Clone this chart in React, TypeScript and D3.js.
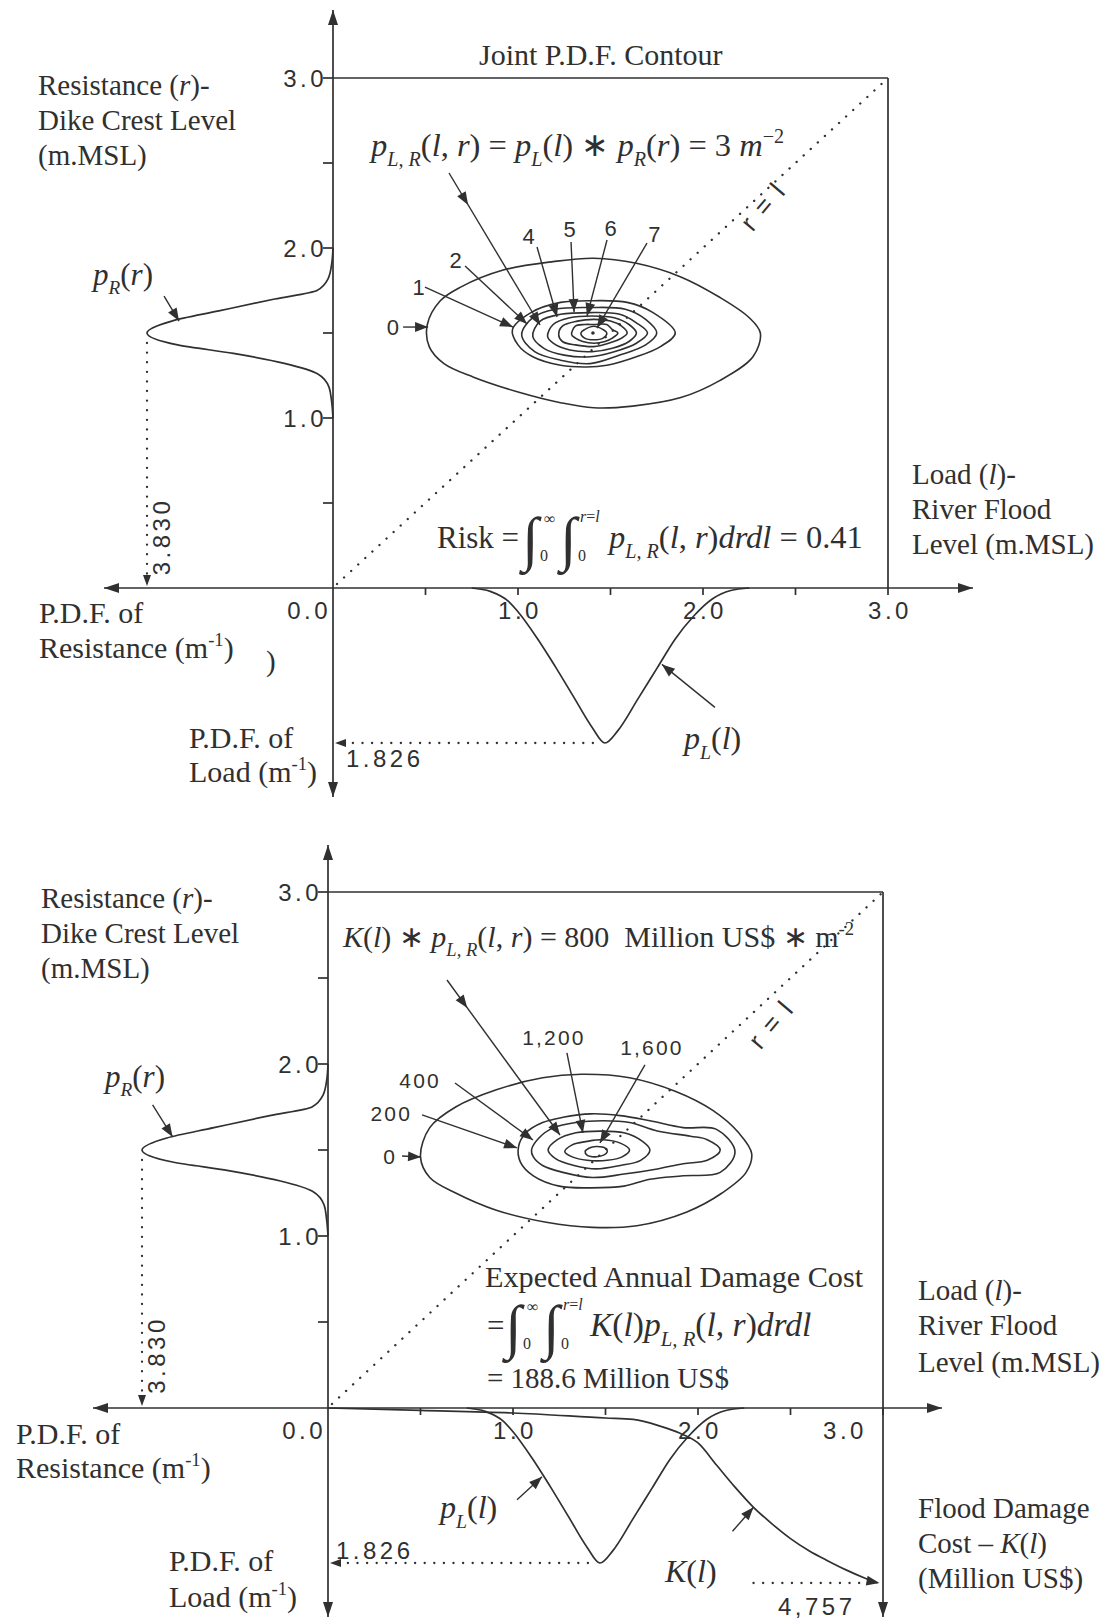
import React from 'react';
import * as d3 from 'd3';

const INK = '#303030';
const SERIF = '"Liberation Serif", "Times New Roman", serif';
const SANS = '"Liberation Sans", Arial, sans-serif';

// p_R(r) - resistance (dike crest level) density
const crestLevel = [1.0, 1.1, 1.18, 1.26, 1.32, 1.38, 1.43, 1.5, 1.57, 1.63, 1.7, 1.75, 1.82, 1.9, 2.0];
const crestPdf = [0, 0.03, 0.08, 0.32, 0.98, 2.05, 3.2, 3.83, 3.32, 2.35, 1.2, 0.33, 0.1, 0.03, 0];

// p_L(l) - load (river flood level) density, drawn below the l axis
const floodLevel = [0.75, 0.85, 0.95, 1.0, 1.1, 1.2, 1.3, 1.4, 1.47, 1.54, 1.65, 1.75, 1.85, 1.95, 2.05, 2.15, 2.25];
const floodPdf = [0, 0.04, 0.16, 0.28, 0.58, 0.92, 1.28, 1.64, 1.826, 1.68, 1.3, 0.95, 0.6, 0.33, 0.13, 0.03, 0];

// K(l) - flood damage cost (million US$)
const damageLevel = [0, 0.5, 1.0, 1.5, 1.65, 1.8, 1.9, 2.0, 2.1, 2.2, 2.3, 2.4, 2.5, 2.6, 2.7, 2.8, 2.9, 2.97];
const damageCost = [0, 65, 136, 272, 310, 500, 680, 950, 1550, 2150, 2700, 3150, 3550, 3880, 4150, 4400, 4620, 4757];

const axisTicks = [0.5, 1, 1.5, 2, 2.5, 3];
const labelTicks = [1, 2, 3];

// joint pdf contours p_LR(l, r), levels 0..7 m^-2, points are [l, r]
const jointLevels = ['0', '1', '2', '3', '4', '5', '6', '7'];
const jointRings = [
  [[0.51, 1.55], [0.58, 1.69], [0.69, 1.77], [0.92, 1.87], [1.19, 1.92], [1.41, 1.94], [1.64, 1.91], [1.88, 1.83], [2.09, 1.71], [2.25, 1.59], [2.31, 1.5], [2.27, 1.36], [2.09, 1.22], [1.88, 1.12], [1.62, 1.07], [1.41, 1.06], [1.23, 1.09], [1.01, 1.15], [0.76, 1.24], [0.6, 1.32], [0.52, 1.42]],
  [[0.97, 1.52], [1.07, 1.62], [1.23, 1.68], [1.41, 1.69], [1.59, 1.68], [1.73, 1.62], [1.85, 1.5], [1.77, 1.42], [1.64, 1.36], [1.48, 1.31], [1.37, 1.3], [1.23, 1.31], [1.08, 1.36], [1.0, 1.43]],
  [[1.02, 1.49], [1.08, 1.59], [1.2, 1.64], [1.39, 1.65], [1.58, 1.64], [1.69, 1.58], [1.75, 1.5], [1.69, 1.43], [1.55, 1.37], [1.39, 1.32], [1.23, 1.34], [1.09, 1.39]],
  [[1.08, 1.48], [1.12, 1.57], [1.23, 1.61], [1.39, 1.62], [1.55, 1.61], [1.64, 1.56], [1.7, 1.5], [1.64, 1.44], [1.52, 1.39], [1.39, 1.36], [1.25, 1.37], [1.14, 1.41]],
  [[1.16, 1.48], [1.19, 1.55], [1.28, 1.59], [1.4, 1.6], [1.52, 1.59], [1.6, 1.55], [1.64, 1.5], [1.6, 1.45], [1.51, 1.41], [1.4, 1.39], [1.28, 1.4], [1.19, 1.44]],
  [[1.22, 1.49], [1.24, 1.54], [1.32, 1.57], [1.41, 1.58], [1.5, 1.57], [1.56, 1.54], [1.59, 1.5], [1.56, 1.47], [1.49, 1.44], [1.41, 1.42], [1.31, 1.43], [1.24, 1.45]],
  [[1.29, 1.49], [1.31, 1.54], [1.36, 1.55], [1.41, 1.55], [1.48, 1.55], [1.51, 1.52], [1.54, 1.5], [1.51, 1.47], [1.47, 1.45], [1.41, 1.44], [1.35, 1.45], [1.31, 1.47]],
  [[1.34, 1.5], [1.36, 1.52], [1.41, 1.54], [1.46, 1.52], [1.48, 1.5], [1.46, 1.47], [1.41, 1.46], [1.36, 1.47]],
];
const jointPeak = [1.405, 1.5];

// expected damage contours K(l) * p_LR(l, r), million US$ m^-2
const costLevels = ['0', '200', '400', '800', '1,200', '1,600'];
const costRings = [
  [[0.5, 1.46], [0.55, 1.63], [0.69, 1.75], [0.91, 1.85], [1.16, 1.92], [1.37, 1.94], [1.63, 1.92], [1.88, 1.84], [2.08, 1.73], [2.22, 1.6], [2.29, 1.48], [2.26, 1.37], [2.13, 1.25], [1.94, 1.14], [1.67, 1.06], [1.43, 1.05], [1.18, 1.08], [0.91, 1.15], [0.69, 1.25], [0.55, 1.34]],
  [[1.03, 1.52], [1.07, 1.6], [1.16, 1.66], [1.27, 1.69], [1.42, 1.71], [1.58, 1.7], [1.74, 1.67], [1.92, 1.63], [2.1, 1.62], [2.2, 1.49], [2.12, 1.37], [1.92, 1.35], [1.74, 1.33], [1.6, 1.29], [1.42, 1.28], [1.25, 1.29], [1.11, 1.35], [1.04, 1.43]],
  [[1.1, 1.5], [1.14, 1.57], [1.22, 1.63], [1.34, 1.66], [1.49, 1.67], [1.63, 1.66], [1.78, 1.61], [1.96, 1.58], [2.05, 1.56], [2.12, 1.5], [2.05, 1.44], [1.92, 1.42], [1.78, 1.39], [1.6, 1.36], [1.43, 1.34], [1.27, 1.37], [1.16, 1.41], [1.11, 1.46]],
  [[1.19, 1.5], [1.24, 1.56], [1.34, 1.6], [1.47, 1.61], [1.6, 1.6], [1.7, 1.55], [1.74, 1.5], [1.69, 1.44], [1.58, 1.41], [1.45, 1.39], [1.33, 1.41], [1.23, 1.45]],
  [[1.28, 1.49], [1.32, 1.53], [1.4, 1.55], [1.49, 1.56], [1.58, 1.54], [1.63, 1.5], [1.59, 1.46], [1.51, 1.44], [1.4, 1.44], [1.32, 1.46]],
  [[1.39, 1.49], [1.41, 1.51], [1.45, 1.52], [1.5, 1.51], [1.51, 1.49], [1.49, 1.47], [1.44, 1.46], [1.4, 1.47]],
];

// layout scales
const topX = d3.scaleLinear().domain([0, 3]).range([333, 888]);
const topY = d3.scaleLinear().domain([0, 3]).range([588, 78]);
const botX = d3.scaleLinear().domain([0, 3]).range([328, 883]);
const botY = d3.scaleLinear().domain([0, 3]).range([1408, 892]);
const pdfR = d3.scaleLinear().domain([0, 3.83]).range([0, 186]);
const pdfL = d3.scaleLinear().domain([0, 1.826]).range([0, 155]);
const costK = d3.scaleLinear().domain([0, 4757]).range([0, 175]);
const fmt = d3.format('.1f');

const head = (tx: number, ty: number, ang: number, len = 12, half = 4.5) => {
  const c = Math.cos(ang), s = Math.sin(ang);
  const bx = tx - len * c, by = ty - len * s;
  return `M${tx},${ty}L${bx - half * s},${by + half * c}L${bx + half * s},${by - half * c}Z`;
};

type Seg = [string, string?];
function Rich({ x, y, segs, size = 29, anchor = 'start' }: { x: number; y: number; segs: Seg[]; size?: number; anchor?: string }) {
  let off = 0;
  const kids = segs.map(([t, f = ''], k) => {
    const small = f.includes('b') || f.includes('p');
    const target = f.includes('b') ? size * 0.3 : f.includes('p') ? -size * 0.4 : 0;
    const dy = target - off;
    off = target;
    return (
      <tspan key={k} dy={dy || undefined} fontStyle={f.includes('i') ? 'italic' : undefined} fontSize={small ? size * 0.62 : undefined}>
        {t}
      </tspan>
    );
  });
  return (
    <text x={x} y={y} fontSize={size} fontFamily={SERIF} fill={INK} textAnchor={anchor} style={{ whiteSpace: 'pre' }}>
      {kids}
    </text>
  );
}

function Num({ x, y, children, anchor = 'start', size = 24, ls = 3.5, transform }: any) {
  return (
    <text x={x} y={y} fontSize={size} fontFamily={SANS} fill={INK} textAnchor={anchor} letterSpacing={ls} transform={transform}>
      {children}
    </text>
  );
}

function Pointer({ tx, ty, dx, dy, mid, len = 13 }: { tx: number; ty: number; dx: number; dy: number; mid?: number; len?: number }) {
  const sx = tx + dx, sy = ty + dy;
  const ang = Math.atan2(ty - sy, tx - sx);
  return (
    <g>
      <line x1={sx} y1={sy} x2={tx} y2={ty} stroke={INK} strokeWidth={1.4} />
      <path d={head(tx, ty, ang, len, len * 0.38)} fill={INK} />
      {mid != null && <path d={head(sx + (tx - sx) * mid, sy + (ty - sy) * mid, ang, len, len * 0.38)} fill={INK} />}
    </g>
  );
}

const Dotted = (p: any) => (
  <line {...p} stroke={INK} strokeWidth={2.3} strokeDasharray="0.1 9.5" strokeLinecap="round" />
);

function Integrals({ x, y }: { x: number; y: number }) {
  return (
    <g fill={INK} fontFamily={SERIF}>
      <text x={x} y={y + 11} fontSize={60}>∫</text>
      <text x={x + 22} y={y - 24} fontSize={16}>∞</text>
      <text x={x + 18} y={y + 13} fontSize={16}>0</text>
      <text x={x + 38} y={y + 11} fontSize={60}>∫</text>
      <text x={x + 58} y={y - 26} fontSize={16}>
        <tspan fontStyle="italic">r</tspan>=<tspan fontStyle="italic">l</tspan>
      </text>
      <text x={x + 56} y={y + 13} fontSize={16}>0</text>
    </g>
  );
}

function Frame({ x, y, hLeft, hRight, vTop, vBottom, rightBottom, shift3 = 0 }: any) {
  const x0 = x(0), y0 = y(0);
  return (
    <g>
      <g stroke={INK} strokeWidth={1.7} fill="none">
        <line x1={hLeft} y1={y0} x2={hRight} y2={y0} />
        <line x1={x0} y1={vTop} x2={x0} y2={vBottom} />
        <line x1={x0} y1={y(3)} x2={x(3)} y2={y(3)} />
        <line x1={x(3)} y1={y(3)} x2={x(3)} y2={rightBottom} />
        {axisTicks.map((t) => <line key={'y' + t} x1={x0 - 10} x2={x0} y1={y(t)} y2={y(t)} />)}
        {axisTicks.map((t) => <line key={'x' + t} x1={x(t)} x2={x(t)} y1={y0} y2={y0 + 7} />)}
      </g>
      <g fill={INK}>
        <path d={head(hLeft, y0, Math.PI, 15, 5)} />
        <path d={head(hRight, y0, 0, 15, 5)} />
        <path d={head(x0, vTop, -Math.PI / 2, 15, 5)} />
        <path d={head(x0, vBottom, Math.PI / 2, 15, 5)} />
      </g>
      {labelTicks.map((t) => <Num key={'ly' + t} x={x0 - 6} y={y(t) + 9} anchor="end">{fmt(t)}</Num>)}
      <Num x={x0 - 2} y={y0 + 31} anchor="end">{fmt(0)}</Num>
      {labelTicks.map((t) => (
        <Num key={'lx' + t} x={x(t) + 2 + (t === 3 ? shift3 : 0)} y={y0 + 31} anchor="middle">{fmt(t)}</Num>
      ))}
    </g>
  );
}

function Marginals({ x, y, pl, peakLabelY }: any) {
  const x0 = x(0), y0 = y(0);
  const rPts = d3.zip(crestLevel, crestPdf).reverse();
  const lPts = d3.zip(floodLevel, floodPdf);
  const rLine = d3.line<number[]>().x((d) => x0 - pdfR(d[1])).y((d) => y(d[0])).curve(d3.curveMonotoneY);
  const lLine = d3.line<number[]>().x((d) => x(d[0])).y((d) => y0 + pdfL(d[1])).curve(d3.curveMonotoneX);
  const ri = d3.maxIndex(crestPdf), li = d3.maxIndex(floodPdf);
  const rpx = x0 - pdfR(crestPdf[ri]), rpy = y(crestLevel[ri]);
  const lpx = x(floodLevel[li]), lpy = y0 + pdfL(floodPdf[li]);
  const cy = (rpy + y0) / 2 + 76;
  return (
    <g>
      <path d={rLine(rPts) || ''} fill="none" stroke={INK} strokeWidth={1.7} />
      <path d={lLine(lPts) || ''} fill="none" stroke={INK} strokeWidth={1.7} />
      <Dotted x1={rpx} y1={rpy + 10} x2={rpx} y2={y0 - 12} />
      <path d={head(rpx, y0 - 2, Math.PI / 2, 11, 4)} fill={INK} />
      <Dotted x1={lpx - 12} y1={lpy} x2={x0 + 12} y2={lpy} />
      <path d={head(x0 + 2, lpy, Math.PI, 11, 4)} fill={INK} />
      <Num x={rpx + 23} y={cy} anchor="middle" transform={`rotate(-90 ${rpx + 23} ${cy})`}>
        {d3.format('.3f')(crestPdf[ri])}
      </Num>
      <Num x={x0 + (pl ? 13 : 8)} y={peakLabelY}>{d3.format('.3f')(floodPdf[li])}</Num>
    </g>
  );
}

function TopPanel() {
  const x = topX, y = topY;
  const ring = d3.line<number[]>().x((d) => x(d[0])).y((d) => y(d[1])).curve(d3.curveCatmullRomClosed.alpha(0.5));
  const ptrs = [
    { label: jointLevels[0], tip: [0.514, 1.535], d: [-25, 0], lab: [-3, 8], anchor: 'end' },
    { label: jointLevels[1], tip: [0.973, 1.535], d: [-88, -40], lab: [-6, 8], anchor: 'middle' },
    { label: jointLevels[2], tip: [1.049, 1.553], d: [-62, -58], lab: [-9, 2], anchor: 'middle' },
    { label: jointLevels[4], tip: [1.211, 1.594], d: [-20, -70], lab: [-8, -3], anchor: 'middle' },
    { label: jointLevels[5], tip: [1.303, 1.624], d: [-3, -70], lab: [-1, -5], anchor: 'middle' },
    { label: jointLevels[6], tip: [1.373, 1.6], d: [20, -76], lab: [4, -4], anchor: 'middle' },
    { label: jointLevels[7], tip: [1.427, 1.529], d: [50, -85], lab: [8, -1], anchor: 'middle' },
  ];
  const rTip = [3.17, 1.57];
  const lTip = [1.778, 0.9];
  return (
    <g>
      <Frame x={x} y={y} hLeft={104} hRight={973} vTop={10} vBottom={797} rightBottom={y(0)} />
      <Dotted x1={x(0) + 4} y1={y(0) - 4} x2={x(3)} y2={y(3)} />
      <Marginals x={x} y={y} pl peakLabelY={767} />
      {jointRings.map((r, i) => (
        <path key={i} d={ring(r) || ''} fill="none" stroke={INK} strokeWidth={1.6} />
      ))}
      <circle cx={x(jointPeak[0])} cy={y(jointPeak[1])} r={1.8} fill={INK} />
      {ptrs.map((p) => {
        const tx = x(p.tip[0]), ty = y(p.tip[1]);
        return (
          <g key={p.label}>
            <Pointer tx={tx} ty={ty} dx={p.d[0]} dy={p.d[1]} />
            <Num x={tx + p.d[0] + p.lab[0]} y={ty + p.d[1] + p.lab[1]} anchor={p.anchor} size={22} ls={1}>{p.label}</Num>
          </g>
        );
      })}
      <Pointer tx={x(1.119)} ty={y(1.547)} dx={-91} dy={-152} mid={0.21} />
      <Pointer tx={x(0) - pdfR(rTip[0])} ty={y(rTip[1])} dx={-15} dy={-25} />
      <Pointer tx={x(lTip[0])} ty={y(0) + pdfL(lTip[1])} dx={53} dy={43} />

      <text transform="translate(770,212) rotate(-50)" textAnchor="middle" fontFamily={SANS} fontSize={26} fill={INK} letterSpacing={2}>r = l</text>

      <Rich x={479} y={65} size={30} segs={[['Joint P.D.F. Contour']]} />
      <Rich x={38} y={95} segs={[['Resistance ('], ['r', 'i'], [')-']]} />
      <Rich x={38} y={130} segs={[['Dike Crest Level']]} />
      <Rich x={38} y={165} segs={[['(m.MSL)']]} />
      <Rich x={93} y={285} size={31} segs={[['p', 'i'], ['R', 'ib'], ['('], ['r', 'i'], [')']]} />
      <Rich x={371} y={156} size={32.5} segs={[['p', 'i'], ['L, R', 'ib'], ['('], ['l', 'i'], [', '], ['r', 'i'], [') = '], ['p', 'i'], ['L', 'ib'], ['('], ['l', 'i'], [') ∗ '], ['p', 'i'], ['R', 'ib'], ['('], ['r', 'i'], [') = 3 '], ['m', 'i'], ['−2', 'p']]} />
      <Rich x={437} y={548} size={31} segs={[['Risk =']]} />
      <Integrals x={522} y={548} />
      <Rich x={609} y={548} size={32.5} segs={[['p', 'i'], ['L, R', 'ib'], ['('], ['l', 'i'], [', '], ['r', 'i'], [')'], ['drdl', 'i'], [' = 0.41']]} />
      <Rich x={912} y={484} segs={[['Load ('], ['l', 'i'], [')-']]} />
      <Rich x={912} y={519} segs={[['River Flood']]} />
      <Rich x={912} y={554} segs={[['Level (m.MSL)']]} />
      <Rich x={39} y={623} size={30} segs={[['P.D.F. of']]} />
      <Rich x={39} y={658} size={30} segs={[['Resistance (m'], ['-1', 'p'], [')']]} />
      <Rich x={266} y={671} segs={[[')']]} />
      <Rich x={189} y={748} size={30} segs={[['P.D.F. of']]} />
      <Rich x={189} y={782} size={30} segs={[['Load (m'], ['-1', 'p'], [')']]} />
      <Rich x={684} y={749} size={32} segs={[['p', 'i'], ['L', 'ib'], ['('], ['l', 'i'], [')']]} />
    </g>
  );
}

function BottomPanel() {
  const x = botX, y = botY;
  const y0 = y(0);
  const ring = d3.line<number[]>().x((d) => x(d[0])).y((d) => y(d[1])).curve(d3.curveCatmullRomClosed.alpha(0.5));
  const kLine = d3.line<number[]>().x((d) => x(d[0])).y((d) => y0 + costK(d[1])).curve(d3.curveMonotoneX);
  const kPts = d3.zip(damageLevel, damageCost);
  const n = kPts.length;
  const kEndX = x(kPts[n - 1][0]), kEndY = y0 + costK(kPts[n - 1][1]);
  const kAng = Math.atan2(kEndY - (y0 + costK(kPts[n - 2][1])), kEndX - x(kPts[n - 2][0])) * 0.5;
  const ptrs = [
    { label: costLevels[0], tip: [0.503, 1.459], d: [-19, -1], lab: [-5, 8], anchor: 'end' },
    { label: costLevels[1], tip: [1.022, 1.512], d: [-95, -33], lab: [-10, 6], anchor: 'end' },
    { label: costLevels[2], tip: [1.108, 1.558], d: [-78, -57], lab: [-14, 5], anchor: 'end' },
    { label: costLevels[4], tip: [1.378, 1.599], d: [-16, -80], lab: [-13, -8], anchor: 'middle' },
    { label: costLevels[5], tip: [1.47, 1.541], d: [45, -78], lab: [7, -10], anchor: 'middle' },
  ];
  const rTip = [3.2, 1.576];
  const lTip = [1.157, 0.81];
  const kTip = [2.3, 2700];
  return (
    <g>
      <Frame x={x} y={y} hLeft={93} hRight={942} vTop={845} vBottom={1617} rightBottom={1617} shift3={-40} />
      <path d={head(x(3), 1617, Math.PI / 2, 15, 5)} fill={INK} />
      <Dotted x1={x(0) + 4} y1={y0 - 4} x2={x(3)} y2={y(3)} />
      <Marginals x={x} y={y} peakLabelY={1559} />
      <path d={kLine(kPts) || ''} fill="none" stroke={INK} strokeWidth={1.7} />
      <Dotted x1={x(2.3)} y1={kEndY} x2={kEndX - 14} y2={kEndY} />
      <path d={head(kEndX + 2, kEndY, kAng, 13, 5)} fill={INK} />
      {costRings.map((r, i) => (
        <path key={i} d={ring(r) || ''} fill="none" stroke={INK} strokeWidth={1.6} />
      ))}
      {ptrs.map((p) => {
        const tx = x(p.tip[0]), ty = y(p.tip[1]);
        return (
          <g key={p.label}>
            <Pointer tx={tx} ty={ty} dx={p.d[0]} dy={p.d[1]} />
            <Num x={tx + p.d[0] + p.lab[0]} y={ty + p.d[1] + p.lab[1]} anchor={p.anchor} size={21} ls={2.2}>{p.label}</Num>
          </g>
        );
      })}
      <Pointer tx={x(1.254)} ty={y(1.587)} dx={-113} dy={-155} mid={0.18} />
      <Pointer tx={x(0) - pdfR(rTip[0])} ty={y(rTip[1])} dx={-20} dy={-32} />
      <Pointer tx={x(lTip[0])} ty={y0 + pdfL(lTip[1])} dx={-25} dy={23} />
      <Pointer tx={x(kTip[0])} ty={y0 + costK(kTip[1])} dx={-21} dy={24} />

      <text transform="translate(778,1030) rotate(-50)" textAnchor="middle" fontFamily={SANS} fontSize={26} fill={INK} letterSpacing={2}>r = l</text>

      <Rich x={41} y={908} segs={[['Resistance ('], ['r', 'i'], [')-']]} />
      <Rich x={41} y={943} segs={[['Dike Crest Level']]} />
      <Rich x={41} y={978} segs={[['(m.MSL)']]} />
      <Rich x={105} y={1087} size={31} segs={[['p', 'i'], ['R', 'ib'], ['('], ['r', 'i'], [')']]} />
      <Rich x={343} y={947} size={30} segs={[['K', 'i'], ['('], ['l', 'i'], [') ∗ '], ['p', 'i'], ['L, R', 'ib'], ['('], ['l', 'i'], [', '], ['r', 'i'], [') = 800  Million US$ ∗ m'], ['-2', 'p']]} />
      <Rich x={485} y={1287} size={30.2} segs={[['Expected Annual Damage Cost']]} />
      <Rich x={487} y={1336} size={31} segs={[['=']]} />
      <Integrals x={505} y={1336} />
      <Rich x={590} y={1336} size={33.5} segs={[['K', 'i'], ['('], ['l', 'i'], [')'], ['p', 'i'], ['L, R', 'ib'], ['('], ['l', 'i'], [', '], ['r', 'i'], [')'], ['drdl', 'i']]} />
      <Rich x={487} y={1388} segs={[['= 188.6 Million US$']]} />
      <Rich x={918} y={1300} segs={[['Load ('], ['l', 'i'], [')-']]} />
      <Rich x={918} y={1335} segs={[['River Flood']]} />
      <Rich x={918} y={1372} segs={[['Level (m.MSL)']]} />
      <Rich x={16} y={1444} size={30} segs={[['P.D.F. of']]} />
      <Rich x={16} y={1478} size={30} segs={[['Resistance (m'], ['-1', 'p'], [')']]} />
      <Rich x={440} y={1518} size={32} segs={[['p', 'i'], ['L', 'ib'], ['('], ['l', 'i'], [')']]} />
      <Rich x={169} y={1571} size={30} segs={[['P.D.F. of']]} />
      <Rich x={169} y={1607} size={30} segs={[['Load (m'], ['-1', 'p'], [')']]} />
      <Rich x={665} y={1582} size={32} segs={[['K', 'i'], ['('], ['l', 'i'], [')']]} />
      <Num x={778} y={1615}>{d3.format(',')(damageCost[n - 1])}</Num>
      <Rich x={918} y={1518} segs={[['Flood Damage']]} />
      <Rich x={918} y={1553} segs={[['Cost – '], ['K', 'i'], ['('], ['l', 'i'], [')']]} />
      <Rich x={918} y={1588} segs={[['(Million US$)']]} />
    </g>
  );
}

export default function App() {
  return (
    <svg width={1114} height={1623} viewBox="0 0 1114 1623" style={{ position: 'absolute', left: 0, top: 0, display: 'block' }}>
      <rect width={1114} height={1623} fill="#fff" />
      <TopPanel />
      <BottomPanel />
    </svg>
  );
}
